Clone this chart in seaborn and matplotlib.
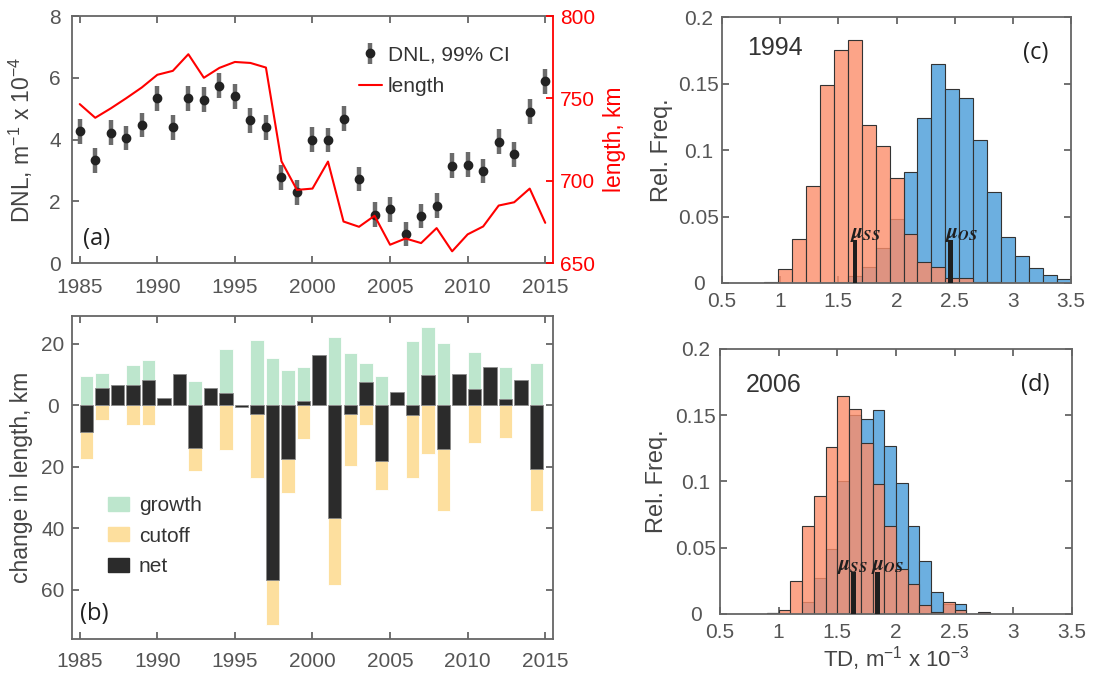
import numpy as np
import matplotlib
matplotlib.use("Agg")
import matplotlib.pyplot as plt
import seaborn as sns
from matplotlib.patches import Patch

# ---------------- data ----------------
years = list(range(1985, 2016))
dnl = [4.27, 3.33, 4.22, 4.05, 4.47, 5.33, 4.40, 5.33, 5.29, 5.74, 5.40, 4.62, 4.39, 2.78, 2.29,
       4.00, 3.98, 4.67, 2.72, 1.56, 1.74, 0.94, 1.52, 1.86, 3.15, 3.18, 2.98, 3.93, 3.52, 4.90, 5.88]
dnl_ci = [0.40] * 31
length_km = [746.5, 738.2, 743.9, 750.1, 756.6, 764.3, 766.7, 776.8, 762.5, 768.5, 772.1, 771.5, 768.7,
             711.8, 694.4, 695.2, 711.6, 675.2, 672.0, 678.7, 661.1, 664.9, 662.1, 671.2, 657.1, 667.4,
             672.2, 684.9, 686.9, 695.2, 674.4]

change_years = list(range(1985, 2015))
growth = [9.4, 10.4, 6.7, 13.2, 14.6, 2.2, 10.1, 7.8, 5.6, 18.4, 0.0, 21.1, 15.2, 11.4, 12.4,
          16.2, 22.2, 17.0, 13.7, 9.4, 4.2, 20.8, 25.5, 20.2, 10.3, 17.2, 12.5, 12.5, 8.3, 13.6]
cutoff = [17.5, 4.9, 0.0, 6.5, 6.3, 0.0, 0.0, 21.4, 0.0, 14.4, 0.5, 23.7, 71.6, 28.4, 11.1,
          0.0, 58.6, 19.6, 6.3, 27.6, 0.0, 23.6, 15.9, 34.3, 0.0, 12.2, 0.0, 10.5, 0.0, 34.3]
net = [-8.6, 5.6, 6.7, 6.6, 8.2, 2.2, 10.1, -13.9, 5.6, 3.9, -0.5, -2.9, -56.8, -17.5, 1.4,
       16.2, -36.6, -2.8, 7.6, -18.2, 4.2, -3.1, 9.7, -14.3, 10.3, 5.2, 12.5, 1.9, 8.3, -20.8]

edges_1994 = [0.86, 0.98, 1.10, 1.22, 1.34, 1.46, 1.58, 1.70, 1.82, 1.94, 2.06, 2.18, 2.30, 2.42,
              2.54, 2.66, 2.78, 2.90, 3.02, 3.14, 3.26, 3.38, 3.50]
ss_1994 = [0.001, 0.0108, 0.0331, 0.0729, 0.1489, 0.1749, 0.1827, 0.1188, 0.1030, 0.0789, 0.0368,
           0.0158, 0.0118, 0.0040, 0.0040, 0.0005, 0.0005, 0, 0, 0, 0, 0]
os_1994 = [0, 0, 0, 0, 0, 0.001, 0.0053, 0.0123, 0.0263, 0.0481, 0.0837, 0.1241, 0.1649, 0.1459,
           0.1388, 0.1078, 0.0682, 0.0348, 0.0200, 0.0113, 0.0060, 0.0030]
mu_1994 = {"SS": 1.643, "OS": 2.464}

edges_2006 = [0.9, 1.0, 1.1, 1.2, 1.3, 1.4, 1.5, 1.6, 1.7, 1.8, 1.9, 2.0, 2.1, 2.2, 2.3, 2.4, 2.5,
              2.6, 2.7, 2.8]
ss_2006 = [0.0008, 0.003, 0.0249, 0.0661, 0.0892, 0.1261, 0.1643, 0.1545, 0.1291, 0.0982, 0.0661,
           0.0342, 0.0226, 0.0068, 0.0013, 0.0088, 0.003, 0, 0.0015]
os_2006 = [0.0005, 0, 0, 0.009, 0.0269, 0.049, 0.1003, 0.150, 0.1475, 0.1543, 0.1271, 0.099, 0.0661,
           0.0402, 0.0168, 0.0075, 0.0078, 0, 0]
mu_2006 = {"SS": 1.637, "OS": 1.842}
mu_height = 0.032

# ---------------- style ----------------
sns.set_theme(style="white")
plt.rcParams["font.family"] = ["Liberation Sans", "DejaVu Sans"]
plt.rcParams["mathtext.fontset"] = "custom"
plt.rcParams["mathtext.rm"] = "Liberation Sans"
plt.rcParams["mathtext.it"] = "Liberation Sans:italic"
plt.rcParams["mathtext.bf"] = "Liberation Sans:bold"

GRAY = "#666666"
TXT = "#555555"
LAB = "#444444"
TICK_FS = 15
LAB_FS = 16.5

fig = plt.figure(figsize=(10.97, 6.73), dpi=100)
axA = fig.add_axes([0.0656, 0.6092, 0.4385, 0.3670])
axB = fig.add_axes([0.0656, 0.0505, 0.4385, 0.4799])
axC = fig.add_axes([0.6582, 0.5795, 0.3181, 0.3952])
axD = fig.add_axes([0.6563, 0.0877, 0.3209, 0.3938])


def style(ax, xpad, ypad, right=True):
    for s in ax.spines.values():
        s.set_color(GRAY)
        s.set_linewidth(1.3)
    ax.tick_params(direction="in", length=5, width=1.3, color=GRAY, labelcolor=TXT,
                   labelsize=TICK_FS, top=True, right=right, bottom=True, left=True)
    ax.tick_params(axis="x", pad=xpad)
    ax.tick_params(axis="y", pad=ypad)
    plt.setp(ax.get_yticklabels(), ha="center")


# ---------------- (a) ----------------
eb = axA.errorbar(years, dnl, yerr=dnl_ci, fmt="o", color="#222222", ms=6,
                  ecolor="#6b6b6b", elinewidth=3.2, capsize=0, zorder=3)
axA.set_xlim(1984.5, 2015.5)
axA.set_ylim(0, 8)
axA.set_xticks(range(1985, 2016, 5))
axA.set_yticks([0, 2, 4, 6, 8])
style(axA, xpad=11, ypad=12.2, right=False)
axA.spines["right"].set_visible(False)
axA.set_ylabel(r"DNL, m$^{-1}$ x 10$^{-4}$", fontsize=LAB_FS, color=LAB)
axA.yaxis.set_label_coords(-0.077, 0.5)

ax2 = axA.twinx()
sns.lineplot(x=years, y=length_km, ax=ax2, color="#ff0000", lw=1.5, label="length")
ax2.set_ylim(650, 800)
ax2.set_yticks([650, 700, 750, 800])
ax2.set_ylabel("length, km", fontsize=LAB_FS, color="#ff0000", labelpad=6)
for k, s in ax2.spines.items():
    s.set_visible(k == "right")
ax2.spines["right"].set_color("#ff0000")
ax2.spines["right"].set_linewidth(1.3)
ax2.tick_params(axis="y", direction="in", length=5, width=1.3, color="#ff0000",
                labelcolor="#ff0000", labelsize=TICK_FS, pad=5)
line_handle = ax2.get_lines()[0]
ax2.legend([eb, line_handle], ["DNL, 99% CI", "length"], frameon=False, fontsize=15,
           loc="upper left", bbox_to_anchor=(0.557, 0.957), handlelength=1.1,
           handletextpad=0.3, labelspacing=0.6, labelcolor="#333333")
axA.text(0.022, 0.05, "(a)", transform=axA.transAxes, fontsize=17, family="Open Sans",
         color="#222222", va="bottom")

# ---------------- (b) ----------------
GREEN = "#bde6cd"
YELLOW = "#fddf9e"
DARK = "#2b2b2b"
axB.bar(change_years, growth, width=0.87, align="edge", color=GREEN, edgecolor="white", linewidth=0.6)
axB.bar(change_years, [-c for c in cutoff], width=0.87, align="edge", color=YELLOW,
        edgecolor="white", linewidth=0.6)
axB.bar(change_years, net, width=0.87, align="edge", color=DARK, edgecolor="#8a8a8a", linewidth=0.6)
axB.set_xlim(1984.5, 2015.5)
axB.set_ylim(-76, 29)
axB.set_xticks(range(1985, 2016, 5))
axB.set_yticks([20, 0, -20, -40, -60])
axB.set_yticklabels(["20", "0", "20", "40", "60"])
style(axB, xpad=9, ypad=13.7)
axB.set_ylabel("change in length, km", fontsize=LAB_FS, color=LAB)
axB.yaxis.set_label_coords(-0.081, 0.5)
axB.legend([Patch(color=GREEN), Patch(color=YELLOW), Patch(color=DARK)],
           ["growth", "cutoff", "net"], frameon=False, fontsize=15, loc="upper left",
           bbox_to_anchor=(0.035, 0.5), handlelength=1.05, handleheight=0.65,
           handletextpad=0.45, labelspacing=0.55, labelcolor="#333333")
axB.text(0.017, 0.04, "(b)", transform=axB.transAxes, fontsize=17, family="Open Sans",
         color="#222222", va="bottom")

# ---------------- (c), (d) ----------------
BLUE = "#6cafe0"
ORANGE = "#fc8d6a"


def hist_panel(ax, edges, ss, os_, mu, year, tag, mu_text_pos, ypad, ylab_x, text_y):
    centers = [(edges[i] + edges[i + 1]) / 2 for i in range(len(edges) - 1)]
    sns.histplot(x=centers, weights=os_, bins=edges, ax=ax, color=BLUE, alpha=1.0,
                 edgecolor="#333333", linewidth=0.8)
    sns.histplot(x=centers, weights=ss, bins=edges, ax=ax, color=ORANGE, alpha=0.8,
                 edgecolor="#333333", linewidth=0.8)
    for key in ["SS", "OS"]:
        ax.bar(mu[key], mu_height, width=0.04, color="#1e1e1e", linewidth=0, zorder=5)
        tx, ty = mu_text_pos[key]
        ax.text(tx, ty, r"$\mathbfit{\mu}_{\mathbfit{%s}}$" % key, math_fontfamily="stix",
                fontsize=15, color="#1e1e1e", ha="left", va="bottom", zorder=6)
    ax.set_xlim(0.5, 3.5)
    ax.set_ylim(0, 0.2)
    ax.set_xticks([0.5, 1, 1.5, 2, 2.5, 3, 3.5])
    ax.set_xticklabels(["0.5", "1", "1.5", "2", "2.5", "3", "3.5"])
    ax.set_yticks([0, 0.05, 0.1, 0.15, 0.2])
    ax.set_yticklabels(["0", "0.05", "0.1", "0.15", "0.2"])
    style(ax, xpad=6.3, ypad=ypad)
    ax.set_ylabel("Rel. Freq.", fontsize=LAB_FS + 0.5, color=LAB)
    ax.yaxis.set_label_coords(ylab_x, 0.5)
    ax.text(0.072, text_y[0], year, transform=ax.transAxes, fontsize=18, color="#333333",
            ha="left", va="top")
    ax.text(0.935, text_y[1], tag, transform=ax.transAxes, fontsize=17, family="Open Sans",
            color="#222222", ha="right", va="top")


hist_panel(axC, edges_1994, ss_1994, os_1994, mu_1994, "1994", "(c)",
           {"SS": (1.60, 0.029), "OS": (2.42, 0.029)}, ypad=16.6, ylab_x=-0.14,
           text_y=(0.93, 0.91))
hist_panel(axD, edges_2006, ss_2006, os_2006, mu_2006, "2006", "(d)",
           {"SS": (1.50, 0.029), "OS": (1.79, 0.029)}, ypad=17.3, ylab_x=-0.148,
           text_y=(0.911, 0.91))
axC.set_xlabel("")
axD.set_xlabel(r"TD, m$^{-1}$ x 10$^{-3}$", fontsize=16, color=LAB, labelpad=2)

fig.savefig("out.png", dpi=100)
